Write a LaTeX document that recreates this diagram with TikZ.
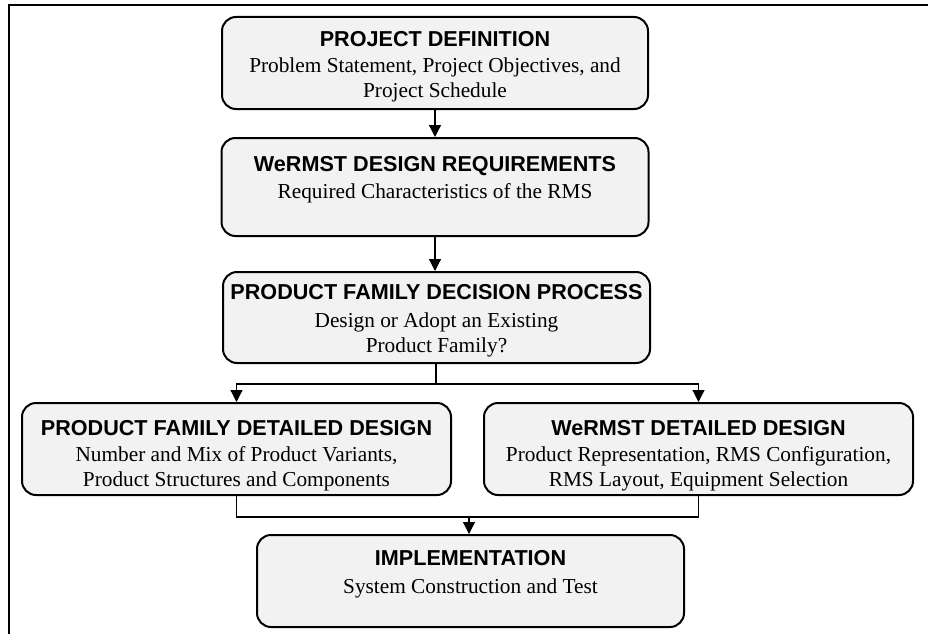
\documentclass[tikz,border=0pt]{standalone}
\usepackage{fontspec}
\setmainfont{Liberation Serif}
\setsansfont{Liberation Sans}
\usetikzlibrary{arrows.meta}
\definecolor{boxgray}{HTML}{F2F2F2}
\def\head{\fontsize{21.6}{25}\selectfont\sffamily\bfseries}
\def\body{\fontsize{21.3}{25}\selectfont\rmfamily}
\newcommand{\lines}[1]{\begin{tabular}[t]{@{}c@{}}#1\end{tabular}}

\begin{document}
\begin{tikzpicture}[x=1pt,y=-1pt,
	box/.style={draw, line width=2pt, rounded corners=14pt, fill=boxgray, inner sep=0pt},
	title/.style={anchor=base, inner sep=0pt, font=\head},
	txt/.style={anchor=base, inner sep=0pt, font=\body},
	link/.style={line width=1.2pt},
	flow/.style={link, -{Triangle[length=12pt,width=12pt]}}]
			%%%%% FRAME %%%%%
			\useasboundingbox (0,0) rectangle (928,634);
			\draw[line width=2pt] (928,5.5) -- (9,5.5) -- (9,634);
			
			%%%%% BOXES %%%%%
			\node[box, minimum width=426pt, minimum height=92pt] (pd) at (435,63) {};
			\node[title] (pdhead) at (435,47) {PROJECT DEFINITION};
			\node[txt] (pdbody) at (435,72) {\lines{Problem Statement, Project Objectives, and\\ Project Schedule}};
			
			\node[box, minimum width=427pt, minimum height=98pt] (req) at (435,187) {};
			\node[title] (reqhead) at (435,171) {WeRMST DESIGN REQUIREMENTS};
			\node[txt] (reqbody) at (435,198) {Required Characteristics of the RMS};
			
			\node[box, minimum width=427pt, minimum height=91pt] (dec) at (436.5,317.5) {};
			\node[title] (dechead) at (436.5,299) {PRODUCT FAMILY DECISION PROCESS};
			\node[txt] (decbody) at (436.5,327) {\lines{Design or Adopt an Existing\\ Product Family?}};
			
			\node[box, minimum width=429pt, minimum height=92pt] (pfd) at (236.5,449) {};
			\node[title] (pfdhead) at (236.5,435) {PRODUCT FAMILY DETAILED DESIGN};
			\node[txt] (pfdbody) at (236.5,461) {\lines{Number and Mix of Product Variants,\\ Product Structures and Components}};
			
			\node[box, minimum width=429pt, minimum height=92pt] (wdd) at (698.5,449) {};
			\node[title] (wddhead) at (698.5,435) {WeRMST DETAILED DESIGN};
			\node[txt] (wddbody) at (698.5,461) {\lines{Product Representation, RMS Configuration,\\ RMS Layout, Equipment Selection}};
			
			\node[box, minimum width=427pt, minimum height=92pt] (impl) at (470.5,581) {};
			\node[title] (implhead) at (470.5,565) {IMPLEMENTATION};
			\node[txt] (implbody) at (470.5,593) {System Construction and Test};
			
			%%%%% CONNECTORS %%%%%
			\coordinate (split) at (436,384);
			\coordinate (join) at (469,517);
			
			\draw[flow] (pd.south) -- (pd.south |- req.north);
			\draw[flow] (req.south) -- (req.south |- dec.north);
			\draw[link] (dec.south -| split) -- (split);
			\draw[flow] (split) -| (pfd.north);
			\draw[flow] (split) -| (wdd.north);
			\draw[link] (pfd.south) |- (join) -| (wdd.south);
			\draw[flow] (join) -- (join |- impl.north);
			
		\end{tikzpicture}
\end{document}
